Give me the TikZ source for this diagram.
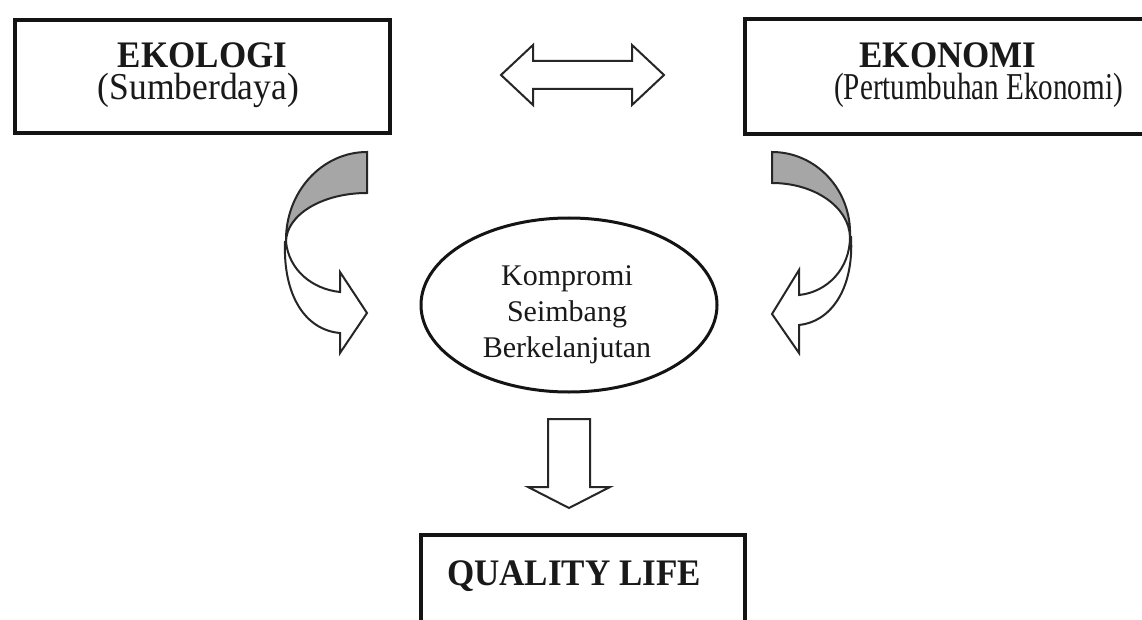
\documentclass[tikz,border=0pt]{standalone}
\usepackage{fontspec}
\usepackage{graphicx}
\setmainfont{Liberation Serif}
\usetikzlibrary{shapes.geometric}
\newcommand{\tallbox}[2][1]{\scalebox{#1}[1.07]{#2}}
\begin{document}
\begin{tikzpicture}[x=1pt,y=-1pt,
  box/.style={draw=black!92,line width=3.5pt,inner sep=0pt},
  titletext/.style={inner sep=0pt,anchor=base,text=black!90,font=\fontsize{35}{40}\selectfont\bfseries},
  subtext/.style={inner sep=0pt,anchor=base,text=black!90,font=\fontsize{35.5}{40}\selectfont},
  ovaltext/.style={inner sep=0pt,anchor=base,text=black!90,font=\fontsize{30}{36}\selectfont},
  blockarrow/.style={draw=black!85,line width=2pt,fill=white,line join=miter},
  backside/.style={draw=black!85,line width=2pt,fill=black!35,line join=miter}]
\clip (0,0) rectangle (1142,620);
\fill[white] (0,0) rectangle (1142,620);

% boxes
\node[box,minimum width=375pt,minimum height=113pt] (eko) at (202.5,76.5) {};
\node[box,minimum width=420pt,minimum height=115pt] (ekn) at (955,76.5) {};
\node[box,minimum width=324pt,minimum height=125pt] (ql) at (583,597.5) {};
\node[draw=black!92,line width=3pt,ellipse,inner sep=0pt,minimum width=296pt,minimum height=174pt] (komp) at (569,305) {};

% texts
\node[titletext] (t1) at (202.5,68) {\tallbox{EKOLOGI}};
\node[subtext] (s1) at (198.5,100) {\tallbox{(Sumberdaya)}};
\node[titletext] (t2) at (948,68) {\tallbox{EKONOMI}};
\node[subtext] (s2) at (978.5,100) {\tallbox[0.82]{(Pertumbuhan Ekonomi)}};
\node[titletext] (t3) at (574,585) {\tallbox{QUALITY LIFE}};
\node[ovaltext] (k1) at (567,285) {Kompromi};
\node[ovaltext] (k2) at (567,321) {Seimbang};
\node[ovaltext] (k3) at (567,357) {Berkelanjutan};

% double arrow between the two boxes
\draw[blockarrow] (501,75) -- (533,45) -- (533,61) -- (632,61) -- (632,45) -- (664,75)
  -- (632,105) -- (632,89) -- (533,89) -- (533,105) -- cycle;

% down arrow to quality life
\draw[blockarrow] (548,419) -- (590,419) -- (590,487) -- (610,487) -- (569,508)
  -- (528,487) -- (548,487) -- cycle;

% left curved arrow
\draw[blockarrow] (286,242) .. controls (289,270) and (312,289) .. (340,292)
  -- (340,272) -- (367,313) -- (340,353) -- (340,333)
  .. controls (305,330) and (283,295) .. (285,242) -- cycle;
\draw[backside] (367,152) -- (367,193) .. controls (322,193) and (286,215) .. (286,242)
  .. controls (285,192) and (322,152) .. (367,152) -- cycle;

% right curved arrow
\draw[blockarrow] (850,237) .. controls (850,268) and (828,292) .. (799,295)
  -- (799,270) -- (772,314) -- (799,353) -- (799,325)
  .. controls (830,322) and (854,290) .. (851,237) -- cycle;
\draw[backside] (772,152) -- (772,183) .. controls (814.5,183) and (849,207) .. (850,237)
  .. controls (852,190) and (816,152) .. (772,152) -- cycle;
\end{tikzpicture}
\end{document}
